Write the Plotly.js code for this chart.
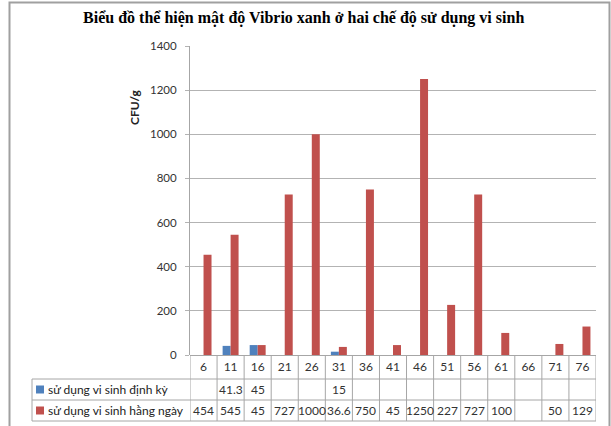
<!DOCTYPE html>
<html>
<head>
<meta charset="utf-8">
<script src="https://cdn.plot.ly/plotly-3.0.1.min.js"></script>
<style>html,body{margin:0;padding:0;background:#fff;}#chart{width:611px;height:426px;}</style>
</head>
<body>
<div id="chart"></div>
<script>
// ---- data ----
const categories = ['6','11','16','21','26','31','36','41','46','51','56','61','66','71','76'];
const seriesNames = ['sử dụng vi sinh định kỳ', 'sử dụng vi sinh hằng ngày'];
const dinhKy   = [null, 41.3, 45, null, null, 15, null, null, null, null, null, null, null, null, null];
const hangNgay = [454, 545, 45, 727, 1000, 36.6, 750, 45, 1250, 227, 727, 100, null, 50, 129];
const yTicks = [0, 200, 400, 600, 800, 1000, 1200, 1400];

// ---- layout constants ----
const W = 611, H = 426;
const L = 190, R = 596, T = 46, B = 355;
const px = X => (X - L) / (R - L);
const py = Y => (B - Y) / (B - T);
const colors = ['#4F81BD', '#C0504D'];
const gridCol = '#B3B3B3';
const tableCol = '#A6A6A6';
const FONT = 'Lato, "Open Sans", "Noto Sans", sans-serif';

const traces = [
  {type: 'bar', name: seriesNames[0], x: categories, y: dinhKy, marker: {color: colors[0]}},
  {type: 'bar', name: seriesNames[1], x: categories, y: hangNgay, marker: {color: colors[1]}}
];

const shapes = [];
const annotations = [];
// outer frame
shapes.push({type: 'rect', xref: 'paper', yref: 'paper', x0: px(9.5), x1: px(609.5), y0: py(440), y1: py(2.5),
  line: {color: '#A0A0A0', width: 2}, layer: 'below'});
// table vertical lines at category boundaries
for (let i = 0; i <= categories.length; i++) {
  shapes.push({type: 'line', xref: 'x', yref: 'paper', x0: i - 0.5, x1: i - 0.5, y0: py(421), y1: 0,
    line: {color: tableCol, width: 1}});
}
// table horizontal lines
[379, 400, 421].forEach(Y => {
  shapes.push({type: 'line', xref: 'paper', yref: 'paper', x0: px(32), x1: 1, y0: py(Y), y1: py(Y),
    line: {color: tableCol, width: 1}});
});
shapes.push({type: 'line', xref: 'paper', yref: 'paper', x0: px(32), x1: px(32), y0: py(379), y1: py(421),
  line: {color: tableCol, width: 1}});

// row labels with legend keys
const rowY = [389.5, 410.5];
const series = [dinhKy, hangNgay];
for (let s = 0; s < 2; s++) {
  shapes.push({type: 'rect', xref: 'paper', yref: 'paper', x0: px(36), x1: px(44), y0: py(rowY[s] + 4), y1: py(rowY[s] - 4),
    fillcolor: colors[s], line: {width: 0}});
  annotations.push({xref: 'paper', yref: 'paper', x: px(46), y: py(rowY[s]), xanchor: 'left', yanchor: 'middle',
    text: seriesNames[s], showarrow: false, font: {family: FONT, size: 12, color: '#222'}});
  series[s].forEach((v, i) => {
    if (v === null) return;
    annotations.push({xref: 'x', yref: 'paper', x: i, y: py(rowY[s]), xanchor: 'center', yanchor: 'middle',
      text: String(v), showarrow: false, font: {family: FONT, size: 12, color: '#333'}});
  });
}
// y axis title
annotations.push({xref: 'paper', yref: 'paper', x: px(134), y: py(107), text: '<b>CFU/g</b>', textangle: -90,
  showarrow: false, xanchor: 'center', yanchor: 'middle', font: {family: FONT, size: 12, color: '#222'}});

const layout = {
  width: W, height: H,
  margin: {l: L, r: W - R, t: T, b: H - B, pad: 0},
  paper_bgcolor: '#fff', plot_bgcolor: '#fff',
  showlegend: false,
  barmode: 'group', bargap: 0.41, bargroupgap: 0,
  title: {text: 'Biểu đồ thể hiện mật độ Vibrio xanh ở hai chế độ sử dụng vi sinh',
    xref: 'container', x: 0.497, yref: 'container', y: 1 - 17 / H, yanchor: 'middle', xanchor: 'center',
    font: {family: '"Liberation Serif", "Times New Roman", serif', size: 16, color: '#000', weight: 'bold'}},
  xaxis: {type: 'category', range: [-0.5, categories.length - 0.5], showgrid: false, zeroline: false,
    showline: false, ticks: '', tickfont: {family: FONT, size: 12, color: '#333'}, ticklabelstandoff: 3,
    fixedrange: true},
  yaxis: {range: [0, 1400], tickvals: yTicks, showgrid: true, gridcolor: gridCol, gridwidth: 1,
    zeroline: true, zerolinecolor: tableCol, zerolinewidth: 1,
    showline: true, linecolor: tableCol, linewidth: 1, ticks: 'outside', ticklen: 4, tickcolor: gridCol,
    tickfont: {family: FONT, size: 11.5, color: '#333'}, ticklabelstandoff: 6, fixedrange: true},
  shapes: shapes,
  annotations: annotations
};

Plotly.newPlot('chart', traces, layout, {displayModeBar: false, staticPlot: true});
</script>
</body>
</html>
